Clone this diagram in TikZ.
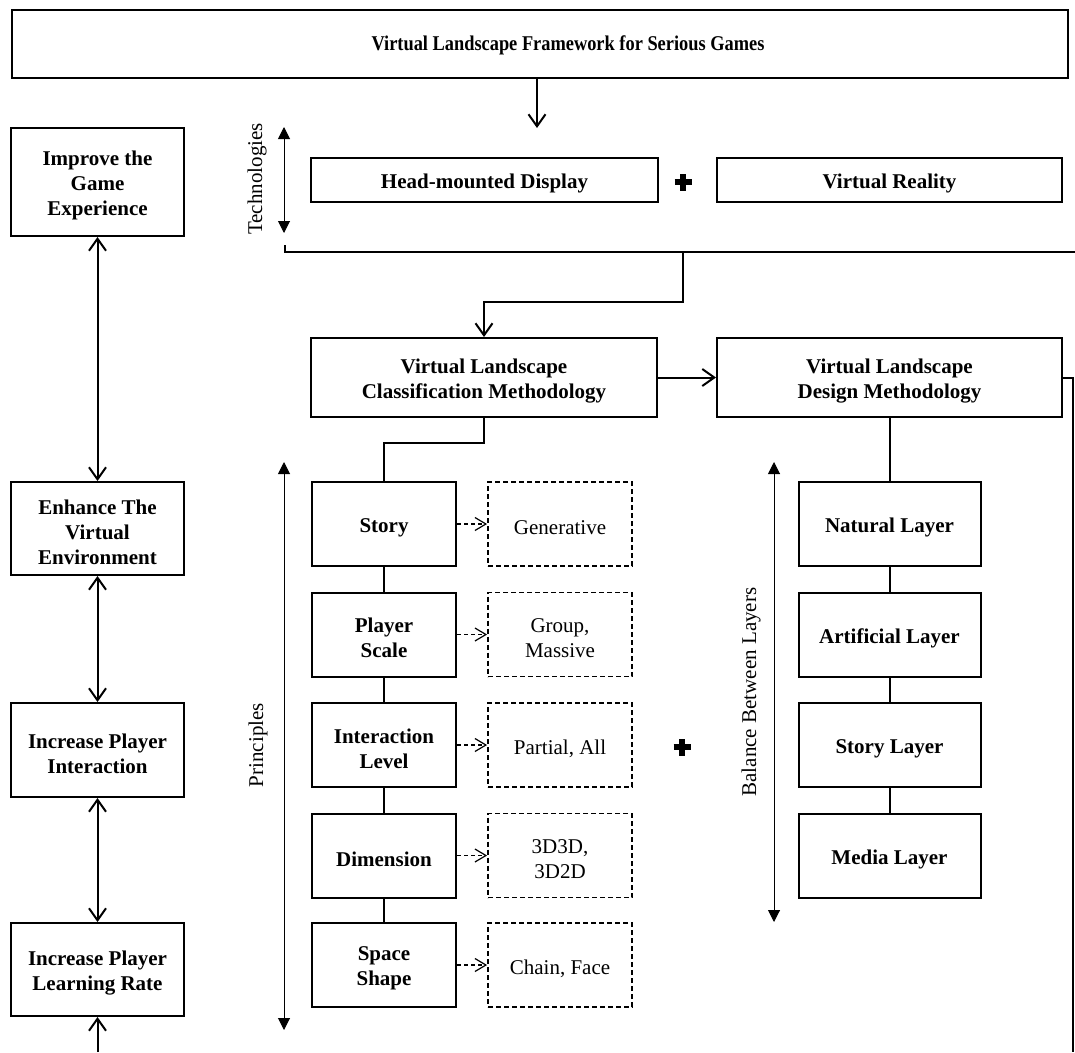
\documentclass[tikz,border=0pt]{standalone}
\usepackage{fontspec}
\setmainfont{Liberation Serif}
\newfontfamily\headfont{Liberation Serif}[FakeStretch=0.875]
\usetikzlibrary{arrows.meta}
\tikzset{
  vtip/.tip={Straight Barb[length=12pt,width=17pt]},
  dtip/.tip={Straight Barb[length=11pt,width=13pt]},
  ftip/.tip={Triangle[length=12pt,width=12pt]},
}
\begin{document}
\begin{tikzpicture}[x=1pt,y=-1pt,
  boxtext/.style={align=center, inner sep=0pt, yshift=-3.5pt,
    font=\fontsize{21}{25}\selectfont\bfseries},
  dashtext/.style={boxtext, font=\fontsize{21}{25}\selectfont},
  tx/.style={label={[boxtext]center:{#1}}},
  dtx/.style={label={[dashtext]center:{#1}}},
  box/.style={draw, line width=2pt, inner sep=0pt},
  dbox/.style={draw, line width=1.8pt, dash pattern=on 5pt off 3pt,
    inner sep=0pt, minimum width=144pt, minimum height=84pt},
  pbox/.style={box, minimum width=144pt, minimum height=84pt},
  lbox/.style={box, minimum width=182pt, minimum height=84pt},
  gbox/.style={box, minimum width=173pt},
  conn/.style={line width=2pt},
  thin/.style={line width=1pt},
  dconn/.style={line width=1.2pt, dash pattern=on 4pt off 3pt, -dtip},
  axis/.style={font=\fontsize{21}{25}\selectfont, rotate=90},
  plussign/.style={line width=5.5pt},
]
\useasboundingbox (0,0) rectangle (1075,1052);

% title
\node[box, minimum width=1056pt, minimum height=68pt] (title) at (540,44) {};
\node[align=center, inner sep=0pt, font=\fontsize{21}{25}\headfont\bfseries]
  (titletext) at (568,45) {Virtual Landscape Framework for Serious Games};
\coordinate (tdown) at (537,128);
\draw[conn,-vtip] (title.south -| tdown) -- (tdown);

% goals column
\node[gbox, minimum height=108pt, tx={Improve the\\Game\\Experience}] (improve) at (97.5,182) {};
\node[gbox, minimum height=93pt, tx={Enhance The\\Virtual\\Environment}] (enhance) at (97.5,528.5) {};
\node[gbox, minimum height=94pt, tx={Increase Player\\Interaction}] (interact) at (97.5,750) {};
\node[gbox, minimum height=93pt, tx={Increase Player\\Learning Rate}] (learn) at (97.5,969.5) {};
\draw[conn,vtip-vtip] (improve.south) -- (enhance.north);
\draw[conn,vtip-vtip] (enhance.south) -- (interact.north);
\draw[conn,vtip-vtip] (interact.south) -- (learn.north);
\coordinate (lbot) at (97.5,1052);
\draw[conn,-vtip] (lbot) -- (learn.south);

% technologies
\node[box, minimum width=347pt, minimum height=44pt, tx={Head-mounted Display}] (hmd) at (484.5,180) {};
\node[box, minimum width=345pt, minimum height=44pt, tx={Virtual Reality}] (vr) at (889.5,180) {};
\coordinate (plusA) at (683,182);
\draw[plussign] ([xshift=-8.5pt]plusA) -- ([xshift=8.5pt]plusA);
\draw[plussign] ([yshift=-8.5pt]plusA) -- ([yshift=8.5pt]plusA);
\coordinate (techtop) at (284,127);
\coordinate (techbot) at (284,233);
\draw[thin,ftip-ftip] (techtop) -- (techbot);
\node[axis] (techlabel) at (257,179) {Technologies};
\coordinate (bracketL) at (285,245);
\coordinate (bracketR) at (1075,252);
\coordinate (split) at (683,252);
\draw[conn] (bracketL) |- (bracketR);

% methodologies
\node[box, minimum width=346pt, minimum height=79pt, tx={Virtual Landscape\\Classification Methodology}] (classm) at (484,377.5) {};
\node[box, minimum width=345pt, minimum height=79pt, tx={Virtual Landscape\\Design Methodology}] (design) at (889.5,377.5) {};
\draw[conn,-vtip] (split) -- (683,302) -| (classm.north);
\draw[conn,-vtip] (classm.east) -- (design.west);
\coordinate (rbot) at (1073,1052);
\draw[conn] (design.east) -| (rbot);

% principles
\node[pbox, tx={Story}] (story) at (384,524) {};
\node[pbox, tx={Player\\Scale}] (scale) at (384,634.5) {};
\node[pbox, tx={Interaction\\Level}] (ilevel) at (384,745) {};
\node[pbox, tx={Dimension}] (dim) at (384,855.5) {};
\node[pbox, tx={Space\\Shape}] (shape) at (384,965) {};
\draw[conn] (classm.south) -- (484,443) -| (story.north);
\draw[conn] (story.south) -- (scale.north);
\draw[conn] (scale.south) -- (ilevel.north);
\draw[conn] (ilevel.south) -- (dim.north);
\draw[conn] (dim.south) -- (shape.north);

\node[dbox, dtx={Generative}] (gen) at (560,524) {};
\node[dbox, dtx={Group,\\Massive}] (grp) at (560,634.5) {};
\node[dbox, dtx={Partial, All}] (part) at (560,745) {};
\node[dbox, dtx={3D3D,\\3D2D}] (three) at (560,855.5) {};
\node[dbox, dtx={Chain, Face}] (chain) at (560,965) {};
\draw[dconn] (story.east) -- (gen.west);
\draw[dconn] (scale.east) -- (grp.west);
\draw[dconn] (ilevel.east) -- (part.west);
\draw[dconn] (dim.east) -- (three.west);
\draw[dconn] (shape.east) -- (chain.west);

\coordinate (ptop) at (284,462);
\coordinate (pbot) at (284,1030);
\draw[thin,ftip-ftip] (ptop) -- (pbot);
\node[axis] (plabel) at (258,745) {Principles};

\coordinate (plusB) at (682,747);
\draw[plussign] ([xshift=-8.5pt]plusB) -- ([xshift=8.5pt]plusB);
\draw[plussign] ([yshift=-8.5pt]plusB) -- ([yshift=8.5pt]plusB);

% layers
\node[lbox, tx={Natural Layer}] (natural) at (889.5,524) {};
\node[lbox, tx={Artificial Layer}] (artificial) at (889.5,634.5) {};
\node[lbox, tx={Story Layer}] (slayer) at (889.5,745) {};
\node[lbox, tx={Media Layer}] (media) at (889.5,855.5) {};
\draw[conn] (design.south) -- (natural.north);
\draw[conn] (natural.south) -- (artificial.north);
\draw[conn] (artificial.south) -- (slayer.north);
\draw[conn] (slayer.south) -- (media.north);

\coordinate (btop) at (774,462);
\coordinate (bbot) at (774,922);
\draw[thin,ftip-ftip] (btop) -- (bbot);
\node[axis] (blabel) at (751,692) {Balance Between Layers};
\end{tikzpicture}
\end{document}
